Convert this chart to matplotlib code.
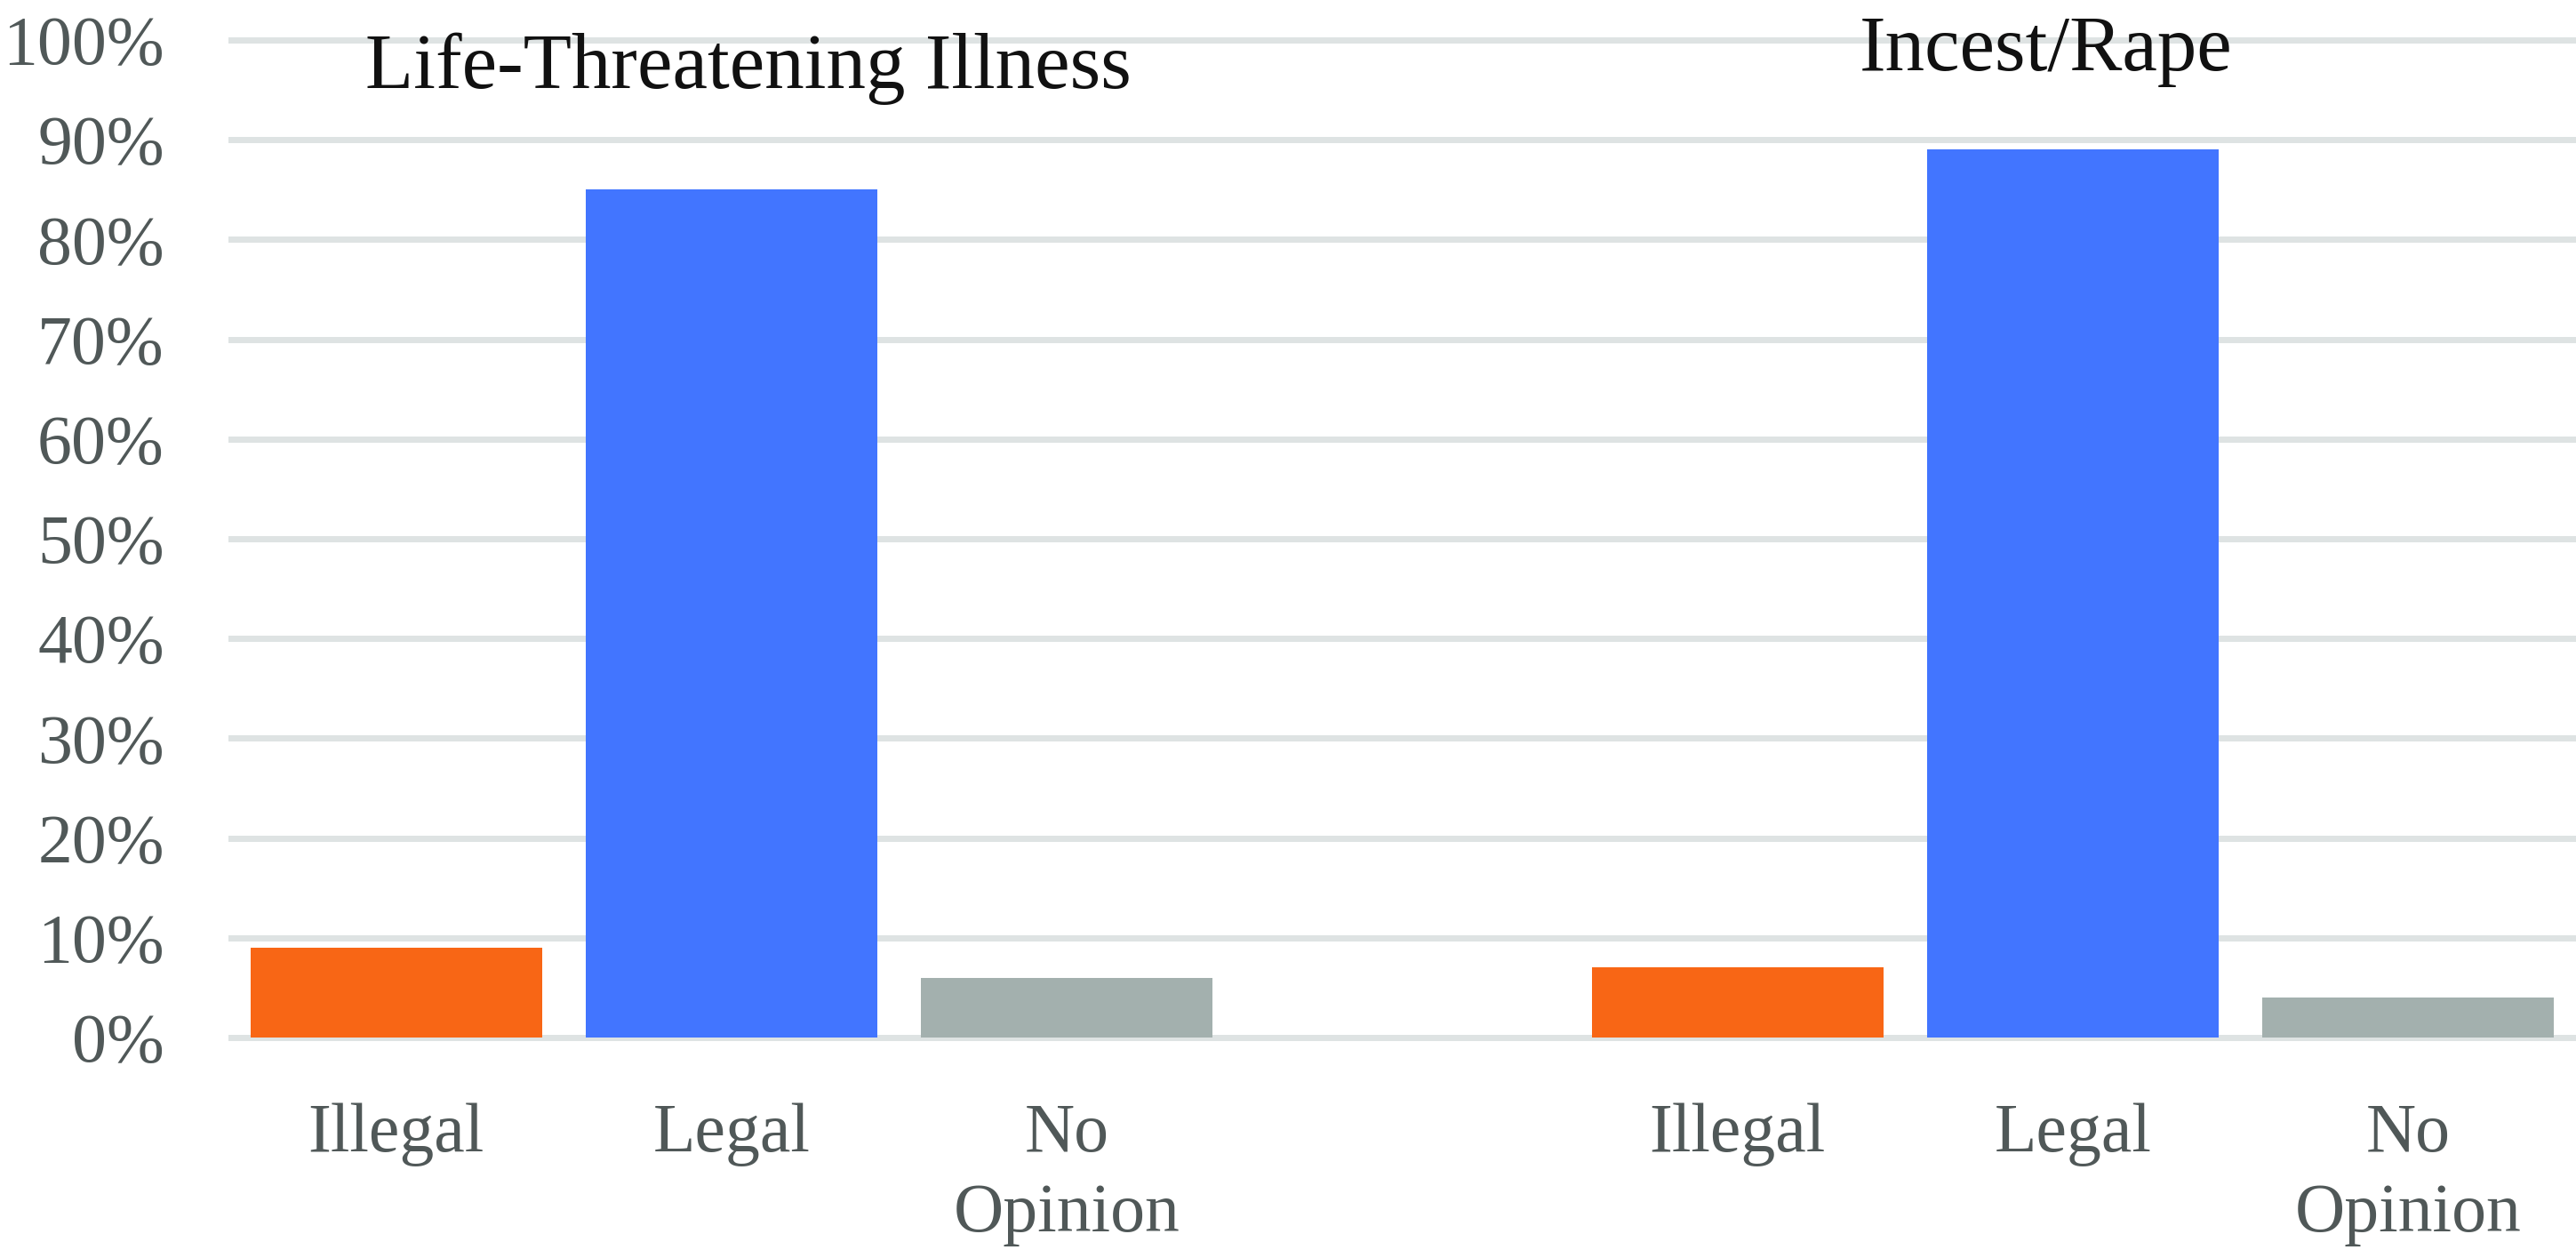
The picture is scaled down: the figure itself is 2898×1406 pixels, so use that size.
import matplotlib.pyplot as plt
import numpy as np

# two panels of the same three answers, with an empty slot between them
categories = ["Illegal", "Legal", "No\nOpinion", "", "Illegal", "Legal", "No\nOpinion"]
values = [9, 85, 6, None, 7, 89, 4]
colors = ["#F86615", "#4275FF", "#A3B0AE", None, "#F86615", "#4275FF", "#A3B0AE"]
titles = ["Life-Threatening Illness", "Incest/Rape"]
yticks = [0, 10, 20, 30, 40, 50, 60, 70, 80, 90, 100]

plt.rcParams['font.family'] = ['Liberation Serif', 'DejaVu Serif']

fig = plt.figure(figsize=(28.98, 14.06), dpi=100)
ax = fig.add_axes([257 / 2898, 0.162, (2898 - 257) / 2898, 0.976 - 0.162])

x = np.arange(len(categories))
for xi, v, c in zip(x, values, colors):
    if v is None:
        continue
    ax.bar(xi, v, width=0.87, color=c, zorder=3)

ax.set_xlim(-0.5, len(categories) - 0.5)
ax.set_ylim(-1, 101)
ax.set_yticks(yticks)
ax.set_yticklabels([f"{t}%" for t in yticks])
ax.set_xticks(x)
ax.set_xticklabels(categories, linespacing=1.33)

ax.grid(axis='y', color='#DEE3E3', linewidth=5, zorder=0)
ax.set_axisbelow(True)
for s in ax.spines.values():
    s.set_visible(False)
ax.tick_params(axis='y', length=0, pad=52, labelsize=56, labelcolor='#505858')
ax.tick_params(axis='x', length=0, pad=45, labelsize=56, labelcolor='#505858')

# panel titles
ax.text(1.05, 95.2, titles[0], fontsize=64, ha='center', va='baseline', color='#111111')
ax.text(4.92, 97.0, titles[1], fontsize=64, ha='center', va='baseline', color='#111111')

fig.savefig("out.png", dpi=100)
